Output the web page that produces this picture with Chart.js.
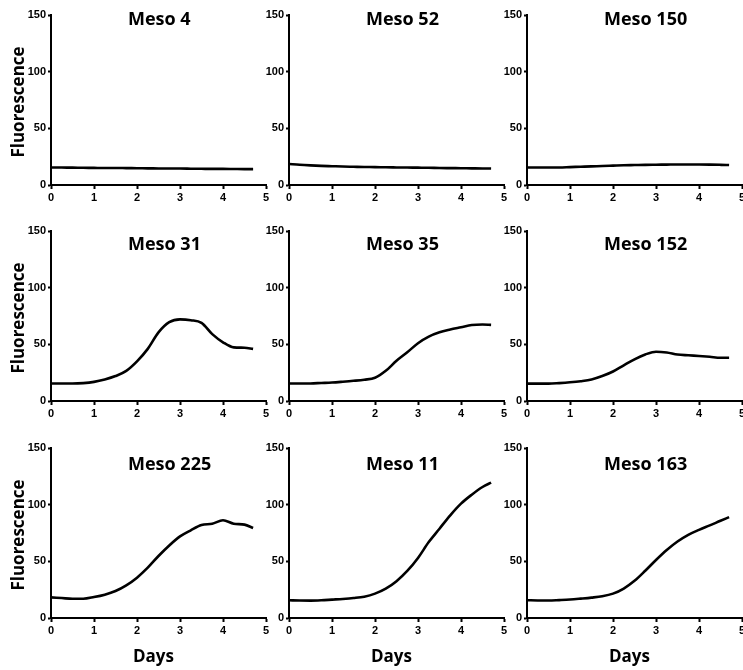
<!DOCTYPE html>
<html>
<head>
<meta charset="utf-8">
<script src="https://cdn.jsdelivr.net/npm/chart.js@4.4.1/dist/chart.umd.min.js"></script>
<style>
  html, body { margin: 0; padding: 0; background: #fff; width: 743px; height: 670px; overflow: hidden; position: relative; }
  canvas { position: absolute; }
</style>
</head>
<body>
<script>
// ---- data ----
const days = [0, 0.25, 0.5, 0.75, 1, 1.25, 1.5, 1.75, 2, 2.25, 2.5, 2.75, 3, 3.25, 3.5, 3.75, 4, 4.25, 4.5, 4.7];
const panelNames = ["Meso 4", "Meso 52", "Meso 150", "Meso 31", "Meso 35", "Meso 152", "Meso 225", "Meso 11", "Meso 163"];
const meso4   = [15.5,15.4,15.3,15.2,15.1,15.0,15.0,14.9,14.8,14.7,14.6,14.5,14.5,14.4,14.3,14.2,14.2,14.1,14.0,14.0];
const meso52  = [18.5,17.8,17.3,16.9,16.6,16.3,16.1,15.9,15.8,15.6,15.5,15.4,15.3,15.2,15.0,14.9,14.8,14.7,14.6,14.5];
const meso150 = [15.5,15.4,15.4,15.5,15.8,16.1,16.4,16.8,17.1,17.4,17.6,17.8,17.9,18.0,18.1,18.1,18.1,18.0,17.8,17.6];
const meso31  = [15.4,15.4,15.4,15.8,16.9,19.0,22.0,26.6,35.0,46.0,60.5,69.5,72.0,71.3,69.0,59.0,51.8,47.3,47.0,46.0];
const meso35  = [15.4,15.4,15.5,15.9,16.3,17.0,17.8,18.8,20.5,26.6,35.5,43.0,51.0,56.8,60.6,63.0,65.0,67.0,67.5,67.2];
const meso152 = [15.3,15.3,15.3,15.8,16.5,17.5,19.0,22.0,26.0,31.5,36.8,41.0,43.5,42.8,41.0,40.3,39.7,39.0,38.2,38.2];
const meso225 = [18.2,17.6,17.0,17.0,18.5,20.6,23.8,28.8,35.6,44.4,54.7,64.0,72.0,77.4,82.0,83.2,86.2,83.2,82.4,79.4];
const meso11  = [15.6,15.4,15.3,15.6,16.2,16.8,17.6,18.8,21.5,25.9,32.5,41.5,53.0,67.0,78.8,90.6,100.9,108.8,115.6,119.4];
const meso163 = [15.7,15.5,15.4,15.8,16.3,17.1,18.0,19.2,21.5,26.0,32.8,41.7,51.2,60.0,67.5,73.4,77.8,81.7,85.8,89.0];
const xTicks = [0, 1, 2, 3, 4, 5];
const yTicks = [0, 50, 100, 150];
const yTitle = "Fluorescence";
const xTitle = "Days";
const seriesList = [meso4, meso52, meso150, meso31, meso35, meso152, meso225, meso11, meso163];

// ---- layout ----
const colLeft = [51, 289, 527];
const rowTop = [15, 231, 448];
const plotW = 215, plotH = 170;
const axisW = 51, padTop = 15, padRight = 12, xAxisH = 55;
const titleOffset = [5, 14, 17];

const textPlugin = {
  id: 'panelText',
  afterDraw(chart, args, opts) {
    const ctx = chart.ctx, a = chart.chartArea;
    ctx.save();
    ctx.fillStyle = '#000';
    ctx.font = 'bold 18px "Open Sans"';
    ctx.textAlign = 'left';
    ctx.textBaseline = 'middle';
    ctx.fillText(opts.title, a.left + 77, a.top + opts.titleDy);
    ctx.font = 'bold 17px "Open Sans"';
    if (opts.showY) {
      ctx.save();
      ctx.translate(19, (a.top + a.bottom) / 2 + 2);
      ctx.rotate(-Math.PI / 2);
      ctx.textAlign = 'center';
      ctx.fillText(yTitle, 0, 0);
      ctx.restore();
    }
    if (opts.showX) {
      ctx.textAlign = 'center';
      ctx.fillText(xTitle, (a.left + a.right) / 2 - 5, a.bottom + 39);
    }
    ctx.restore();
  }
};

for (let i = 0; i < 9; i++) {
  const r = Math.floor(i / 3), c = i % 3;
  const cv = document.createElement('canvas');
  const W = axisW + plotW + padRight, H = padTop + plotH + xAxisH;
  cv.width = W; cv.height = H;
  cv.style.width = W + 'px'; cv.style.height = H + 'px';
  cv.style.left = (colLeft[c] - axisW) + 'px';
  cv.style.top = (rowTop[r] - padTop) + 'px';
  document.body.appendChild(cv);
  const tickFont = { family: '"Liberation Sans", Arial, sans-serif', size: 11, weight: 'bold' };
  new Chart(cv, {
    type: 'line',
    data: {
      datasets: [{
        data: days.map((d, k) => ({ x: d, y: seriesList[i][k] })),
        borderColor: '#000',
        borderWidth: 2.6,
        pointRadius: 0,
        cubicInterpolationMode: 'monotone',
        fill: false
      }]
    },
    options: {
      responsive: false,
      animation: false,
      devicePixelRatio: 1,
      layout: { padding: { top: padTop, right: padRight, left: 0, bottom: 0 } },
      plugins: {
        legend: { display: false },
        tooltip: { enabled: false },
        panelText: { title: panelNames[i], titleDy: titleOffset[r], showY: c === 0, showX: r === 2 }
      },
      scales: {
        x: {
          type: 'linear', min: 0, max: 5,
          afterFit: s => { s.height = xAxisH; },
          afterBuildTicks: s => { s.ticks = xTicks.map(v => ({ value: v })); },
          ticks: { color: '#000', font: tickFont, padding: 2, maxRotation: 0 },
          grid: { drawOnChartArea: false, drawTicks: true, tickLength: 4, tickWidth: 2, tickColor: '#000' },
          border: { display: true, color: '#000', width: 2 }
        },
        y: {
          type: 'linear', min: 0, max: 150,
          afterFit: s => { s.width = axisW; },
          afterBuildTicks: s => { s.ticks = yTicks.map(v => ({ value: v })); },
          ticks: { color: '#000', font: tickFont, padding: 2 },
          grid: { drawOnChartArea: false, drawTicks: true, tickLength: 3, tickWidth: 2, tickColor: '#000' },
          border: { display: true, color: '#000', width: 2 }
        }
      }
    },
    plugins: [textPlugin]
  });
}
</script>
</body>
</html>
